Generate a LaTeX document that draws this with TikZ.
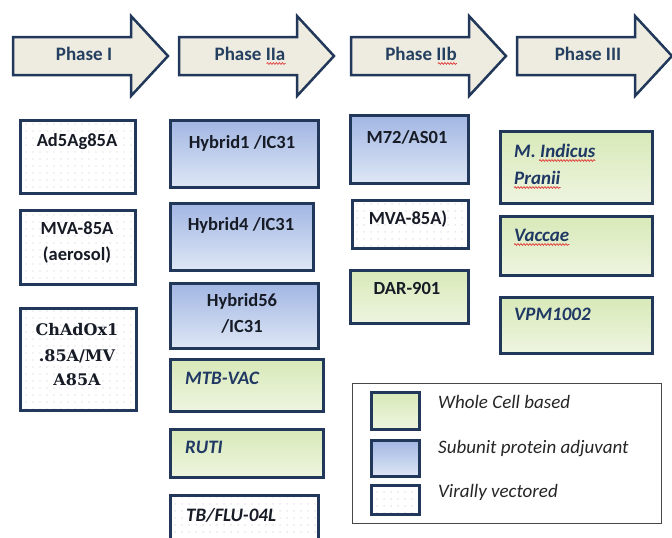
\documentclass[tikz,border=0pt]{standalone}
\usepackage{fontspec}
\setmainfont{Carlito}
\newfontfamily\slabserif{DejaVu Serif}
\usetikzlibrary{patterns.meta,decorations.pathmorphing}

\definecolor{navy}{HTML}{22385A}
\definecolor{arrowfill}{HTML}{EEECE1}
\definecolor{phaseink}{HTML}{243F60}
\definecolor{ink}{HTML}{161B26}
\definecolor{itink}{HTML}{1F3864}
\definecolor{legink}{HTML}{262626}
\definecolor{bluA}{HTML}{A2B6E3}
\definecolor{bluB}{HTML}{DEE7F5}
\definecolor{grnA}{HTML}{D8E9B8}
\definecolor{grnB}{HTML}{EEF5E0}
\definecolor{squig}{HTML}{E03A3A}
\definecolor{dotgrey}{HTML}{C8C8CC}

\tikzset{
  phasearrow/.style={draw=navy, line width=2.5pt, fill=arrowfill, line join=miter},
  box/.style={rectangle, draw=navy, line width=2.6pt, inner sep=0pt, anchor=north west},
  wholecell/.style={box, top color=grnA, bottom color=grnB},
  subunit/.style={box, top color=bluA, bottom color=bluB},
  viral/.style={box, pattern={Dots[distance=6.5pt,radius=0.7pt]}, pattern color=dotgrey},
  phasetxt/.style={font=\bfseries\fontsize{19pt}{23pt}\selectfont, text=phaseink, inner sep=0pt, anchor=base},
  btxt/.style={font=\bfseries\fontsize{18.5pt}{23pt}\selectfont, text=ink, inner sep=0pt, anchor=base},
  stxt/.style={font=\slabserif\bfseries\fontsize{16pt}{20pt}\selectfont, text=ink, inner sep=0pt, anchor=base},
  itxt/.style={font=\bfseries\itshape\fontsize{19pt}{23pt}\selectfont, text=itink, inner sep=0pt, anchor=base west},
  legtxt/.style={font=\itshape\fontsize{19pt}{23pt}\selectfont, text=legink, inner sep=0pt, anchor=base west},
  wavy/.style={draw=squig, line width=0.7pt, decorate, decoration={snake, amplitude=0.9pt, segment length=3pt}},
}

\begin{document}
\begin{tikzpicture}[x=1pt, y=-1pt]
\useasboundingbox (0,0) rectangle (672,538);
\clip (0,0) rectangle (672,538);
\fill[white] (0,0) rectangle (672,538);

% phase arrows
\foreach \x in {13,179,351,517}{
  \draw[phasearrow] (\x,37) -- ++(118,0) -- ++(0,-21) -- ++(37,40) -- ++(-37,40) -- ++(0,-21) -- (\x,75) -- cycle;
}
\node[phasetxt] (p1) at (84,60) {Phase I};
\node[phasetxt] (p2) at (250,60) {Phase IIa};
\node[phasetxt] (p3) at (421,60) {Phase IIb};
\node[phasetxt] (p4) at (588,60) {Phase III};
\draw[wavy] ([xshift=-19pt,yshift=-3.5pt]p2.base east) -- ([yshift=-3.5pt]p2.base east);
\draw[wavy] ([xshift=-19pt,yshift=-3.5pt]p3.base east) -- ([yshift=-3.5pt]p3.base east);

% Phase I column
\node[viral, minimum width=115pt, minimum height=73pt] (ad5) at (19,119) {};
\node[viral, minimum width=115pt, minimum height=74pt] (mvaa) at (19,209) {};
\node[viral, minimum width=116pt, minimum height=102pt] (chad) at (19,307) {};
\node[btxt] (ad5t) at (77,146) {Ad5Ag85A};
\node[btxt] (mvaat1) at (77,234) {MVA-85A};
\node[btxt] (mvaat2) at (77,260) {(aerosol)};
\node[stxt] (chadt1) at (77,335) {ChAdOx1};
\node[stxt] (chadt2) at (77,361) {.85A/MV};
\node[stxt] (chadt3) at (77,385) {A85A};

% Phase IIa column
\node[subunit, minimum width=148pt, minimum height=67pt] (hyb1) at (169,119) {};
\node[subunit, minimum width=143pt, minimum height=67pt] (hyb4) at (169,202) {};
\node[subunit, minimum width=148pt, minimum height=65pt] (hyb56) at (169,282) {};
\node[wholecell, minimum width=153pt, minimum height=52pt] (mtb) at (169,358) {};
\node[wholecell, minimum width=153pt, minimum height=48pt] (ruti) at (169,428) {};
\node[viral, minimum width=148pt, minimum height=70pt] (tbflu) at (169,494) {};
\node[btxt] (hyb1t) at (242,148) {Hybrid1 /IC31};
\node[btxt] (hyb4t) at (241,230) {Hybrid4 /IC31};
\node[btxt] (hyb56t1) at (242,306) {Hybrid56};
\node[btxt] (hyb56t2) at (242,332) {/IC31};
\node[itxt] (mtbt) at (185,384) {MTB-VAC};
\node[itxt] (rutit) at (185,453) {RUTI};
\node[itxt, text=ink] (tbflut) at (186,521) {TB/FLU-04L};

% Phase IIb column
\node[subunit, minimum width=118pt, minimum height=68pt] (m72) at (349,114) {};
\node[viral, minimum width=116pt, minimum height=48pt] (mvab) at (351,199) {};
\node[wholecell, minimum width=118pt, minimum height=53pt] (dar) at (349,269) {};
\node[btxt] (m72t) at (407,143) {M72/AS01};
\node[btxt] (mvabt) at (408,224) {MVA-85A)};
\node[btxt] (dart) at (407,294) {DAR-901};

% Phase III column
\node[wholecell, minimum width=152pt, minimum height=72pt] (mip) at (499,130) {};
\node[wholecell, minimum width=152pt, minimum height=59pt] (vac) at (499,215) {};
\node[wholecell, minimum width=152pt, minimum height=56pt] (vpm) at (499,296) {};
\node[itxt] (mipt1) at (514,157) {M. Indicus};
\node[itxt] (mipt2) at (514,184) {Pranii};
\node[itxt] (vact) at (514,241) {Vaccae};
\node[itxt] (vpmt) at (514,320) {VPM1002};
\draw[wavy] ([xshift=25pt,yshift=-3.5pt]mipt1.base west) -- ([yshift=-3.5pt]mipt1.base east);
\draw[wavy] ([yshift=-3.5pt]mipt2.base west) -- ([yshift=-3.5pt]mipt2.base east);
\draw[wavy] ([yshift=-3.5pt]vact.base west) -- ([yshift=-3.5pt]vact.base east);

% legend
\node[rectangle, draw=legink!85, line width=1pt, inner sep=0pt, anchor=north west,
      minimum width=309pt, minimum height=140pt] (legend) at (352,383) {};
\node[wholecell, minimum width=48pt, minimum height=37pt] (lg1) at (370,391) {};
\node[subunit, minimum width=48pt, minimum height=36pt] (lg2) at (370,439) {};
\node[viral, minimum width=48pt, minimum height=29pt] (lg3) at (370,484) {};
\node[legtxt] (lg1t) at (438,408) {Whole Cell based};
\node[legtxt] (lg2t) at (438,453) {Subunit protein adjuvant};
\node[legtxt] (lg3t) at (438,497) {Virally vectored};
\end{tikzpicture}
\end{document}
